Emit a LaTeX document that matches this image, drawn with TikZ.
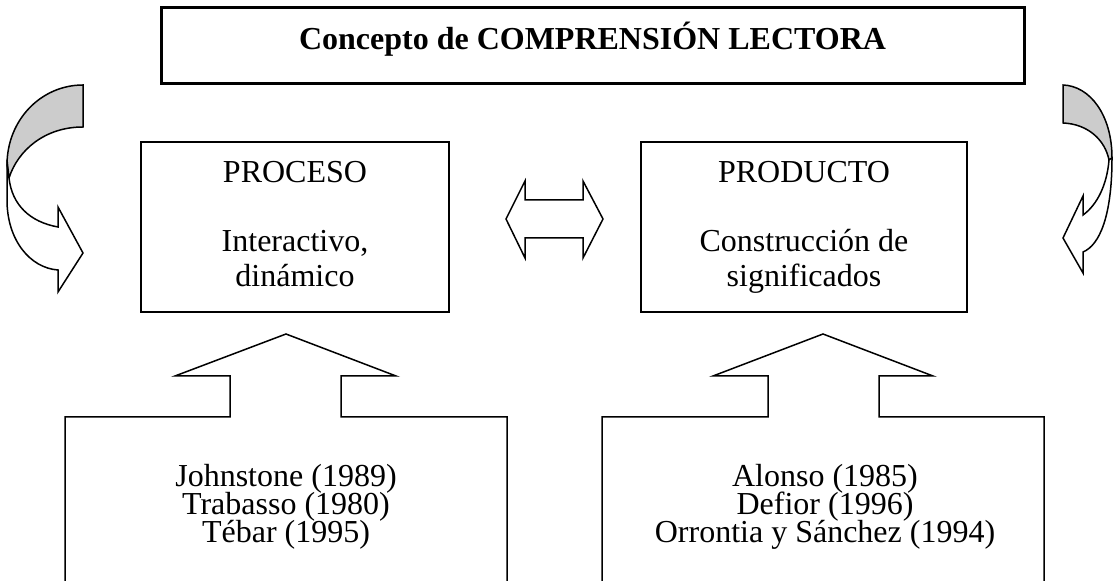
\documentclass[tikz,border=0pt]{standalone}
\usepackage{fontspec}
\setmainfont{Liberation Serif}
\usetikzlibrary{positioning}

\begin{document}
\begin{tikzpicture}[x=0.5pt,y=-0.5pt,
  caja/.style={draw, line width=0.75pt, minimum height=85pt, inner sep=0pt},
  texto/.style={font=\fontsize{16}{14.5}\selectfont, inner sep=0pt, anchor=base},
  flecha/.style={draw, line width=0.75pt, fill=white},
  gris/.style={draw, line width=0.75pt, fill=black!20}]
\useasboundingbox (0,0) rectangle (1113,581);

\node[draw, line width=1.5pt, minimum width=431.5pt, minimum height=38pt, inner sep=0pt] (titulo) at (592.5,46) {};
\node[texto, font=\fontsize{16}{14.5}\selectfont\bfseries] (tit) at (592.5,50) {Concepto de COMPRENSIÓN LECTORA};

\node[caja, minimum width=154pt] (proceso) at (295,227) {};
\node[texto] (proc1) at (proceso.center |- 0,183) {PROCESO};
\node[texto] (proc2) at (proceso.center |- 0,252) {Interactivo,};
\node[texto] (proc3) at (proceso.center |- 0,286.5) {dinámico};

\node[caja, minimum width=163pt] (producto) at (804,227) {};
\node[texto] (prod1) at (producto.center |- 0,183) {PRODUCTO};
\node[texto] (prod2) at (producto.center |- 0,252) {Construcción de};
\node[texto] (prod3) at (producto.center |- 0,286.5) {significados};

% flecha doble
\draw[flecha] (506,219) -- (525,181) -- (525,200) -- (583,200) -- (583,181) -- (603,219)
  -- (583,258) -- (583,238) -- (525,238) -- (525,258) -- cycle;

% flechas curvas
\draw[gris] (83,85) .. controls (41,85) and (7,120) .. (7,165) -- (9,178)
  .. controls (18,150) and (45,127) .. (83,127) -- cycle;
\draw[flecha] (7,160) -- (7,200) .. controls (7,240) and (30,268) .. (58,270) -- (58,292)
  -- (83,253) -- (58,207) -- (58,227) .. controls (30,222) and (12,205) .. (9,178) -- cycle;

\draw[gris] (1063,85) .. controls (1090,86) and (1112,115) .. (1112,158) -- (1109,160)
  .. controls (1105,140) and (1088,124) .. (1063,123) -- cycle;
\draw[flecha] (1112,158) .. controls (1112,215) and (1100,245) .. (1083,252) -- (1083,273)
  -- (1063,238) -- (1083,196) -- (1083,215) .. controls (1097,205) and (1107,185) .. (1109,160) -- cycle;

% llamadas
\draw[line width=0.75pt] (65,585) -- (65,417) -- (230,417) -- (230,376) -- (175,376) -- (286,334)
  -- (396,376) -- (341,376) -- (341,417) -- (507,417) -- (507,585);
\node[texto] (aut1) at (286,487) {Johnstone (1989)};
\node[texto] (aut2) at (286,515) {Trabasso (1980)};
\node[texto] (aut3) at (286,543) {Tébar (1995)};

\draw[line width=0.75pt] (602,585) -- (602,417) -- (768,417) -- (768,376) -- (713,376) -- (823,334)
  -- (933,376) -- (879,376) -- (879,417) -- (1044,417) -- (1044,585);
\node[texto] (aut4) at (825,487) {Alonso (1985)};
\node[texto] (aut5) at (825,515) {Defior (1996)};
\node[texto] (aut6) at (825,543) {Orrontia y Sánchez (1994)};
\end{tikzpicture}
\end{document}
